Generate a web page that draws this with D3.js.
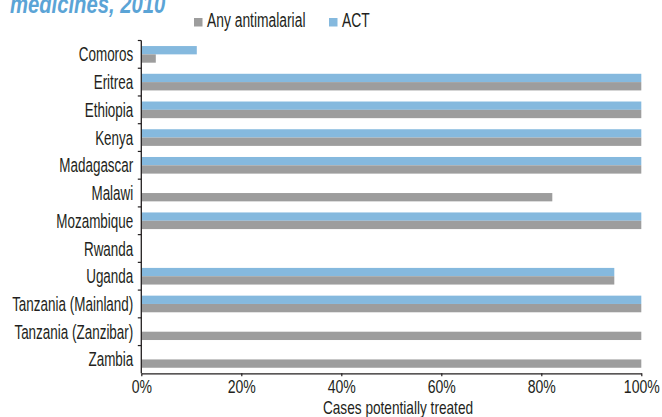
<!DOCTYPE html>
<html>
<head>
<meta charset="utf-8">
<script src="https://cdn.jsdelivr.net/npm/d3@7"></script>
<style>
  body { margin: 0; background: #fff; }
  svg text { font-family: "Liberation Sans", Arial, sans-serif; fill: #231f20; }
</style>
</head>
<body>
<div id="chart"></div>
<script>
var countries = ["Comoros", "Eritrea", "Ethiopia", "Kenya", "Madagascar", "Malawi", "Mozambique",
  "Rwanda", "Uganda", "Tanzania (Mainland)", "Tanzania (Zanzibar)", "Zambia"]
// percent of cases potentially treated, null = no bar
var anyAntimalarial = [2.9, 100, 100, 100, 100, 82.2, 100, null, 94.6, 100, 100, 100]
var act = [11.1, 100, 100, 100, 100, null, 100, null, 94.6, 100, null, null]
var seriesNames = ["ACT", "Any antimalarial"]
var xTicks = [0, 20, 40, 60, 80, 100]

var W = 662, H = 417
var margin = {top: 40.5, right: 21, bottom: 43.7, left: 141.3}
var width = 641.3 - margin.left
var height = H - margin.top - margin.bottom

var colors = {"ACT": "#85b9de", "Any antimalarial": "#9d9d9d"}
// the original font is a condensed gothic, so text is squeezed sideways

var svg = d3.select("#chart").append("svg")
    .attr("width", W)
    .attr("height", H)

// title is cut off at the top of the picture
svg.append("text")
    .attr("transform", "translate(10,13) scale(0.81,1)")
    .attr("font-size", "25px")
    .attr("font-weight", "bold")
    .attr("font-style", "italic")
    .style("fill", "#5ba4d6")
    .text("medicines, 2010")

// legend
var legendItems = [
  {name: "Any antimalarial", x: 194},
  {name: "ACT", x: 329}
]
legendItems.forEach(function(d) {
  svg.append("rect")
      .attr("x", d.x)
      .attr("y", 18)
      .attr("width", 8.5)
      .attr("height", 8.5)
      .attr("fill", colors[d.name])
  svg.append("text")
      .attr("transform", "translate(" + (d.x + 13) + ",26.7) scale(0.71,1)")
      .attr("font-size", "19.5px")
      .text(d.name)
})

var g = svg.append("g")
    .attr("transform", "translate(" + margin.left + "," + margin.top + ")")

var x = d3.scaleLinear().domain([0, 100]).range([0, width])
var y = d3.scaleBand().domain(countries).range([0, height]).paddingInner(0.4).paddingOuter(0.2)
var ySub = d3.scaleBand().domain(seriesNames).range([0, y.bandwidth()])

var rows = countries.map(function(c, i) {
  return {country: c, values: [
    {series: "ACT", value: act[i]},
    {series: "Any antimalarial", value: anyAntimalarial[i]}
  ]}
})

var rowG = g.selectAll(".row")
  .data(rows)
  .enter().append("g")
    .attr("class", "row")
    .attr("transform", function(d) { return "translate(0," + y(d.country) + ")" })

rowG.selectAll("rect")
  .data(function(d) { return d.values.filter(function(v) { return v.value != null }) })
  .enter().append("rect")
    .attr("x", 0)
    .attr("y", function(d) { return ySub(d.series) })
    .attr("width", function(d) { return x(d.value) })
    .attr("height", ySub.bandwidth())
    .attr("fill", function(d) { return colors[d.series] })

// y axis: line with ticks at the category boundaries
var yAxisG = g.append("g").attr("class", "y axis")
yAxisG.append("line")
    .attr("x1", 0).attr("x2", 0)
    .attr("y1", 0).attr("y2", height)
    .attr("stroke", "#231f20")
    .attr("stroke-width", 1.3)
var step = y.step()
yAxisG.selectAll(".tick")
  .data(countries)
  .enter().append("line")
    .attr("x1", -3.5).attr("x2", 0)
    .attr("y1", function(d) { return y(d) - step * 0.2 })
    .attr("y2", function(d) { return y(d) - step * 0.2 })
    .attr("stroke", "#231f20")
    .attr("stroke-width", 1.2)
yAxisG.selectAll(".label")
  .data(countries)
  .enter().append("text")
    .attr("transform", function(d) {
      return "translate(-8," + (y(d) + y.bandwidth() / 2 + 7) + ") scale(0.69,1)"
    })
    .attr("text-anchor", "end")
    .attr("font-size", "19.5px")
    .text(function(d) { return d })

// x axis
var xAxis = d3.axisBottom(x)
    .tickValues(xTicks)
    .tickSize(3)
    .tickSizeOuter(0)
    .tickPadding(4)
    .tickFormat(function(d) { return d + "%" })

var xAxisG = g.append("g")
    .attr("class", "x axis")
    .attr("transform", "translate(0," + height + ")")
    .call(xAxis)
xAxisG.select(".domain").attr("stroke", "#231f20").attr("stroke-width", 1.3)
xAxisG.selectAll(".tick line").attr("stroke", "#231f20").attr("stroke-width", 1.2)
xAxisG.selectAll(".tick text")
    .attr("transform", "scale(0.76,1)")
    .attr("y", 20)
    .attr("dy", null)
    .attr("font-size", "18.5px")
    .attr("font-family", null)
    .style("fill", "#231f20")

g.append("text")
    .attr("transform", "translate(" + (398 - margin.left) + "," + (414 - margin.top) + ") scale(0.78,1)")
    .attr("text-anchor", "middle")
    .attr("font-size", "17.5px")
    .text("Cases potentially treated")
</script>
</body>
</html>
